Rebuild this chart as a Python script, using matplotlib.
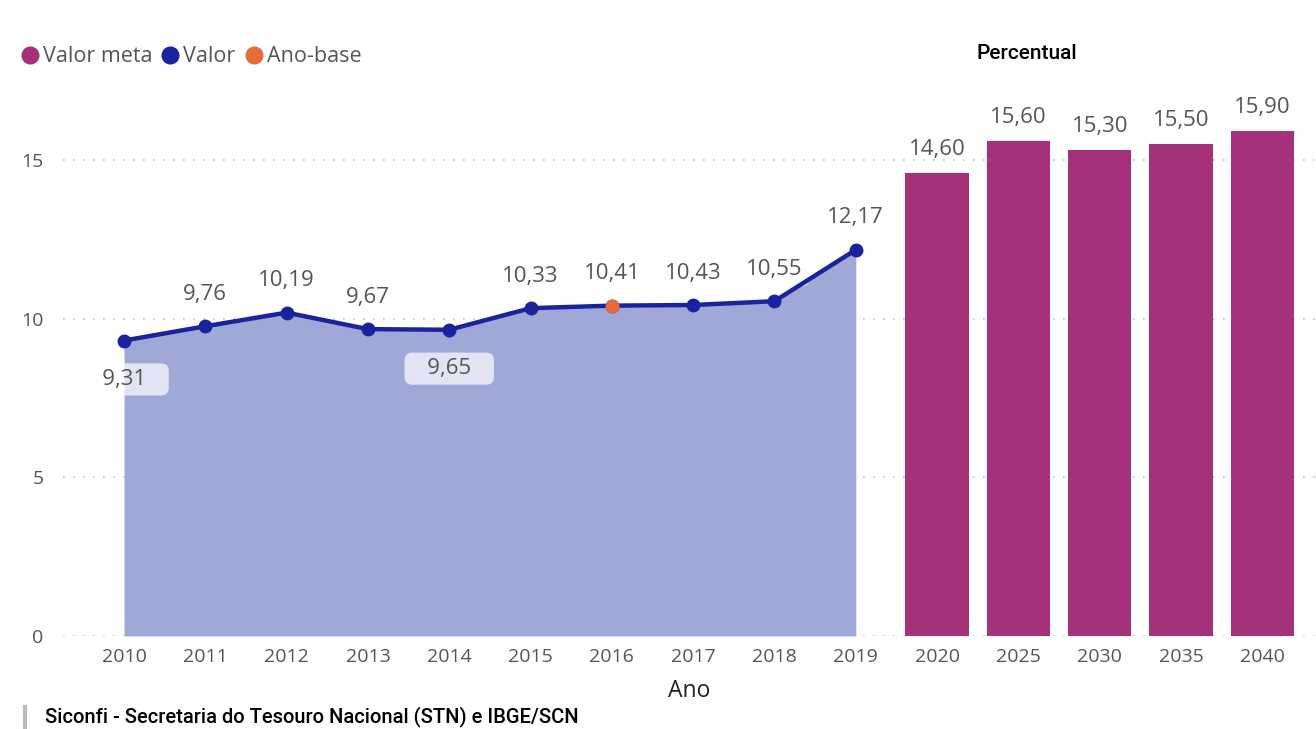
import matplotlib.pyplot as plt
from matplotlib.lines import Line2D

anos = ['2010', '2011', '2012', '2013', '2014', '2015', '2016', '2017', '2018', '2019']
valor = [9.31, 9.76, 10.19, 9.67, 9.65, 10.33, 10.41, 10.43, 10.55, 12.17]
ano_base = '2016'
metas_anos = ['2020', '2025', '2030', '2035', '2040']
valor_meta = [14.60, 15.60, 15.30, 15.50, 15.90]
# rótulos que ficam abaixo do ponto
abaixo = ['2010', '2014']

cor_area = '#a0a8d8'
cor_linha = '#1a239e'
cor_meta = '#a4317a'
cor_base = '#e66c37'
cor_texto = '#555555'


def fmt(v):
    return '{:.2f}'.format(v).replace('.', ',')


fig = plt.figure(figsize=(13.16, 7.29), dpi=100)
ax = fig.add_axes([0.0479, 0.1276, 0.9521, 0.74])

xs = list(range(len(anos)))
xm = list(range(len(anos), len(anos) + len(metas_anos)))

ax.fill_between(xs, 0, valor, color=cor_area, lw=0, zorder=1)
ax.plot(xs, valor, color=cor_linha, lw=3.2, marker='o', ms=9, zorder=4)
ib = anos.index(ano_base)
ax.plot(xs[ib], valor[ib], 'o', color=cor_base, ms=9, zorder=5)

ax.bar(xm, valor_meta, width=0.78, color=cor_meta, zorder=2)

for x, a, v in zip(xs, anos, valor):
    if a in abaixo:
        ax.annotate('   ' + fmt(v) + '   ', (x, v), xytext=(0, -28), textcoords='offset points',
                    ha='center', va='center', fontsize=16, color=cor_texto,
                    fontfamily='Open Sans', zorder=3,
                    bbox=dict(boxstyle='round,pad=0.25,rounding_size=0.35',
                              fc='white', ec='none', alpha=0.7))
    else:
        ax.annotate(fmt(v), (x, v), xytext=(0, 23), textcoords='offset points',
                    ha='center', va='center', fontsize=16, color=cor_texto,
                    fontfamily='Open Sans', zorder=3,
                    bbox=dict(boxstyle='round,pad=0.3,rounding_size=0.3',
                              fc='white', ec='none', alpha=0.5))

for x, v in zip(xm, valor_meta):
    ax.annotate(fmt(v), (x, v), xytext=(0, 17), textcoords='offset points',
                ha='center', va='center', fontsize=16, color=cor_texto,
                fontfamily='Open Sans')

ax.set_xlim(-0.75, 14.66)
ax.set_ylim(0, 17)
ax.set_xticks(xs + xm)
ax.set_xticklabels(anos + metas_anos, fontsize=14, color=cor_texto, fontfamily='Open Sans')
ax.set_yticks([0, 5, 10, 15])
ax.set_yticklabels(['0', '5', '10', '15'], fontsize=14, color=cor_texto, fontfamily='Open Sans')
ax.tick_params(length=0, pad=14)
ax.tick_params(axis='x', pad=9)
ax.grid(axis='y', color='#c4c4c4', ls=(0, (1, 5)), lw=1.2, zorder=0)
ax.set_axisbelow(True)
for s in ax.spines.values():
    s.set_visible(False)

ax.set_xlabel('Ano', fontsize=16.5, color='#222222', fontfamily='Open Sans', labelpad=9)

# legenda
handles = [Line2D([], [], ls='none', marker='o', ms=12, color=c)
           for c in (cor_meta, cor_linha, cor_base)]
fig.legend(handles, ['Valor meta', 'Valor', 'Ano-base'], loc='center left',
           bbox_to_anchor=(0.003, 0.922), ncol=3, frameon=False,
           handlelength=0.6, handletextpad=0.3, columnspacing=0.55,
           prop={'family': 'Open Sans', 'size': 15.5}, labelcolor=cor_texto)

fig.text(0.780, 0.926, 'Percentual', ha='center', va='center', fontsize=15,
         color='black', fontfamily='Roboto', fontweight='medium')
fig.text(0.034, 0.003, 'Siconfi - Secretaria do Tesouro Nacional (STN) e IBGE/SCN',
         ha='left', va='bottom', fontsize=14.5, color='black', fontfamily='Roboto',
         fontweight='medium')
fig.add_artist(Line2D([0.019, 0.019], [0.0, 0.03], color='#bbbbbb', lw=3))

fig.savefig('out.png', dpi=100)
